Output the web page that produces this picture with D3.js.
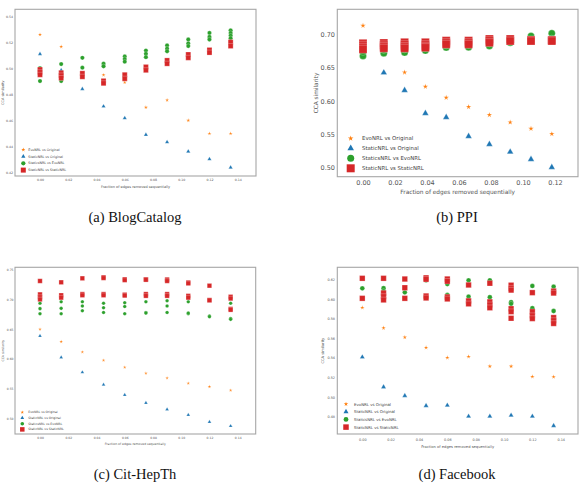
<!DOCTYPE html>
<html>
<head>
<meta charset="utf-8">
<script src="https://cdn.jsdelivr.net/npm/d3@7"></script>
<style>
  body { margin: 0; background: #fff; }
  svg text { font-family: "DejaVu Sans", sans-serif; }
</style>
</head>
<body>
<div id="chart"></div>
<script>
const width = 588, height = 484;

const seriesNames = ["EvoNRL vs Original", "StaticNRL vs Original", "StaticsNRL vs EvoNRL", "StaticNRL vs StaticNRL"];
const seriesColors = ["#ff7f0e", "#1f77b4", "#2ca02c", "#d62728"];
const seriesShapes = ["star", "triangle", "circle", "square"];

// (a) BlogCatalog
const blogX = [0, 0.015, 0.03, 0.045, 0.06, 0.075, 0.09, 0.105, 0.12, 0.135];
const blogXTicks = [0, 0.02, 0.04, 0.06, 0.08, 0.10, 0.12, 0.14];
const blogYTicks = [0.42, 0.44, 0.46, 0.48, 0.50, 0.52, 0.54];
const blogEvoOrig = [0.5257, 0.5165, 0.4955, 0.4948, 0.4892, 0.4700, 0.4756, 0.4600, 0.4500, 0.4500];
const blogStaticOrig = [0.5109, 0.4985, 0.4841, 0.4708, 0.4618, 0.4491, 0.4434, 0.4363, 0.4304, 0.4240];
const blogStaticEvo = [
    [0.5000, 0.4902], [0.5032, 0.4902], [0.5080, 0.5004], [0.5035, 0.5015],
    [0.5090, 0.5070, 0.5050], [0.5135, 0.5110, 0.5085], [0.5175, 0.5150, 0.5130],
    [0.5220, 0.5190, 0.5170], [0.5270, 0.5240, 0.5220], [0.5290, 0.5270, 0.5250, 0.5230]
];
const blogStaticStatic = [
    [0.4990, 0.4970, 0.4950], [0.4965, 0.4945, 0.4925], [0.4961, 0.4935], [0.4903, 0.4885],
    [0.4950, 0.4920], [0.5010, 0.4985], [0.5060, 0.5035], [0.5105, 0.5080],
    [0.5140, 0.5120], [0.5200, 0.5170]
];

// (b) PPI
const ppiX = [0, 0.013, 0.026, 0.039, 0.052, 0.066, 0.079, 0.092, 0.105, 0.118];
const ppiXTicks = [0, 0.02, 0.04, 0.06, 0.08, 0.10, 0.12];
const ppiYTicks = [0.50, 0.55, 0.60, 0.65, 0.70];
const ppiEvoOrig = [0.7136, 0.6840, 0.6433, 0.6216, 0.6050, 0.5910, 0.5789, 0.5679, 0.5582, 0.5502];
const ppiStaticOrig = [0.6830, 0.6427, 0.6161, 0.5814, 0.5754, 0.5467, 0.5347, 0.5231, 0.5120, 0.5000];
const ppiStaticEvo = [
    [0.668, 0.674], [0.672, 0.677], [0.673, 0.678], [0.676, 0.680], [0.6807, 0.684],
    [0.681, 0.685], [0.683, 0.687], [0.688, 0.690], [0.698, 0.692], [0.702, 0.694]
];
const ppiStaticStatic = [
    [0.687, 0.684, 0.681, 0.678], [0.6875, 0.6845, 0.682, 0.6795], [0.6885, 0.685, 0.682, 0.6795],
    [0.6885, 0.685, 0.6825, 0.6805], [0.691, 0.688, 0.6855], [0.691, 0.688, 0.6855],
    [0.6935, 0.691, 0.688], [0.6935, 0.6905], [0.692, 0.6905], [0.692, 0.6905]
];

// (c) Cit-HepTh
const citX = [0, 0.015, 0.03, 0.045, 0.06, 0.075, 0.09, 0.105, 0.12, 0.135];
const citXTicks = [0, 0.02, 0.04, 0.06, 0.08, 0.10, 0.12, 0.14];
const citYTicks = [0.50, 0.55, 0.60, 0.65, 0.70, 0.75];
const citEvoOrig = [0.6497, 0.6289, 0.6115, 0.5975, 0.5858, 0.5757, 0.5678, 0.5589, 0.5532, 0.5471];
const citStaticOrig = [0.6385, 0.6026, 0.5774, 0.5565, 0.5392, 0.5258, 0.5151, 0.5056, 0.4938, 0.4870];
const citStaticEvo = [
    [0.6935, 0.6845, 0.6760], [0.6960, 0.6850, 0.6760], [0.6960, 0.6890, 0.6810],
    [0.6935, 0.6860, 0.6780], [0.6945, 0.6880, 0.6760], [0.6960, 0.6780, 0.6770],
    [0.6978, 0.6890, 0.6780], [0.6960, 0.6760, 0.6770], [0.6720, 0.6710], [0.6935, 0.6680, 0.6665]
];
const citStaticStatic = [
    [0.7310, 0.7085, 0.7040, 0.7000], [0.7288, 0.7070, 0.7030], [0.7355, 0.7090, 0.7070],
    [0.7372, 0.7360, 0.7090, 0.7070], [0.7339, 0.7325, 0.7080, 0.7065], [0.7339, 0.7330, 0.7090, 0.7060],
    [0.7335, 0.7310, 0.7090, 0.7060], [0.7285, 0.7270, 0.7060, 0.7030], [0.7231, 0.6990, 0.6985],
    [0.7045, 0.7015, 0.6840, 0.6825]
];

// (d) Facebook
const fbX = [0, 0.015, 0.03, 0.045, 0.06, 0.075, 0.09, 0.105, 0.12, 0.135];
const fbXTicks = [0, 0.02, 0.04, 0.06, 0.08, 0.10, 0.12, 0.14];
const fbYTicks = [0.48, 0.50, 0.52, 0.54, 0.56, 0.58, 0.60, 0.62];
const fbEvoOrig = [0.5911, 0.5704, 0.5609, 0.5503, 0.5401, 0.5412, 0.5313, 0.5313, 0.5208, 0.5205];
const fbStaticOrig = [0.5408, 0.5103, 0.5014, 0.4912, 0.4916, 0.4804, 0.4804, 0.4814, 0.4804, 0.4708];
const fbStaticEvo = [
    [0.6108], [0.6110, 0.6080], [0.6067], [0.6190, 0.6010], [0.6152, 0.6040],
    [0.6190, 0.6023], [0.6190, 0.6017], [0.5966, 0.5950], [0.6132, 0.5905], [0.6125, 0.5877]
];
const fbStaticStatic = [
    [0.6210, 0.6006], [0.6210, 0.6060, 0.6025, 0.5990], [0.6203, 0.6114, 0.6006],
    [0.6215, 0.6200, 0.6030, 0.6010], [0.6203, 0.6180, 0.6020, 0.6000], [0.6142, 0.5980, 0.5950],
    [0.6160, 0.5970, 0.5940, 0.5910], [0.6140, 0.6110, 0.6090, 0.5900, 0.5870, 0.5803],
    [0.6064, 0.5870, 0.5830, 0.5800], [0.6080, 0.6060, 0.5810, 0.5780, 0.5750]
];

const svg = d3.select("#chart").append("svg")
    .attr("width", width)
    .attr("height", height);

// symbol area from a marker width
function symbolFor(shape, w) {
    if (shape === "square") return d3.symbol(d3.symbolSquare, w * w);
    if (shape === "circle") return d3.symbol(d3.symbolCircle, Math.PI * w * w / 4);
    if (shape === "triangle") return d3.symbol(d3.symbolTriangle, Math.sqrt(3) / 4 * w * w);
    const r = w / 1.902;
    return d3.symbol(d3.symbolStar, r * r / 0.8908);
}

function flatten(xs, vals) {
    return vals.flatMap((v, i) => (Array.isArray(v) ? v : [v]).map(val => ({ x: xs[i], y: val })));
}

function drawPanel(p) {
    const x = d3.scaleLinear().domain(p.xDomain).range(p.xRange);
    const y = d3.scaleLinear().domain(p.yDomain).range(p.yRange);
    const [fx0, fx1, fy0, fy1] = p.frame;
    const g = svg.append("g");

    g.append("rect")
        .attr("x", fx0).attr("y", fy0)
        .attr("width", fx1 - fx0).attr("height", fy1 - fy0)
        .attr("fill", "#fff")
        .attr("stroke", "#a6a6a6")
        .attr("stroke-width", 1.1);

    const xAxis = g.append("g")
        .attr("transform", `translate(0,${fy1})`)
        .call(d3.axisBottom(x).tickValues(p.xTicks).tickFormat(d3.format(".2f")).tickSize(0).tickPadding(p.xPad));
    const yAxis = g.append("g")
        .attr("transform", `translate(${fx0},0)`)
        .call(d3.axisLeft(y).tickValues(p.yTicks).tickFormat(d3.format(".2f")).tickSize(0).tickPadding(p.yPad));
    [xAxis, yAxis].forEach(a => {
        a.select(".domain").remove();
        a.selectAll("text").attr("fill", "#555").style("font-size", p.tickFont + "px").style("font-family", "DejaVu Sans, sans-serif");
    });

    g.append("text")
        .attr("x", (fx0 + fx1) / 2).attr("y", p.xLabelY)
        .attr("text-anchor", "middle").attr("dominant-baseline", "central")
        .attr("fill", "#555").style("font-size", p.labelFont + "px")
        .text("Fraction of edges removed sequentially");
    g.append("text")
        .attr("transform", `translate(${p.yLabelX},${(fy0 + fy1) / 2}) rotate(-90)`)
        .attr("text-anchor", "middle").attr("dominant-baseline", "central")
        .attr("fill", "#555").style("font-size", p.labelFont + "px")
        .text("CCA similarity");

    p.series.forEach((vals, si) => {
        g.append("g").selectAll("path")
            .data(flatten(p.xs, vals))
            .join("path")
            .attr("transform", d => `translate(${x(d.x)},${y(d.y)})`)
            .attr("d", symbolFor(seriesShapes[si], p.sizes[si]))
            .attr("fill", seriesColors[si])
            .attr("stroke", "#fff")
            .attr("stroke-width", 0.25);
    });

    const legend = g.selectAll(".legend")
        .data(seriesNames)
        .join("g")
        .attr("class", "legend")
        .attr("transform", (d, i) => `translate(${p.legend.x},${p.legend.y + i * p.legend.dy})`);
    legend.append("path")
        .attr("d", (d, i) => symbolFor(seriesShapes[i], p.sizes[i])())
        .attr("fill", (d, i) => seriesColors[i]);
    legend.append("text")
        .attr("x", p.legend.gap)
        .attr("dominant-baseline", "central")
        .attr("fill", "#444")
        .style("font-size", p.legend.font + "px")
        .text(d => d);

    svg.append("text")
        .attr("x", p.caption.x).attr("y", p.caption.y)
        .attr("text-anchor", "middle")
        .style("font-family", "'Liberation Serif', 'Times New Roman', serif")
        .style("font-size", "14.5px")
        .attr("fill", "#111")
        .text(p.caption.text);
}

drawPanel({
    xs: blogX, series: [blogEvoOrig, blogStaticOrig, blogStaticEvo, blogStaticStatic],
    xDomain: [0, 0.14], xRange: [40, 237.7], yDomain: [0.42, 0.54], yRange: [172.7, 16],
    frame: [15, 256, 9.3, 176], xTicks: blogXTicks, yTicks: blogYTicks,
    xPad: 3.2, yPad: 2, tickFont: 3.2, labelFont: 3.5, xLabelY: 187, yLabelX: 3,
    sizes: [4, 4.2, 4.3, 5],
    legend: { x: 23.3, y: 149.7, dy: 6.8, gap: 5, font: 3.3 },
    caption: { x: 135, y: 222, text: "(a) BlogCatalog" }
});

drawPanel({
    xs: ppiX, series: [ppiEvoOrig, ppiStaticOrig, ppiStaticEvo, ppiStaticStatic],
    xDomain: [0, 0.12], xRange: [363, 555], yDomain: [0.50, 0.70], yRange: [167.3, 34.7],
    frame: [337.3, 578, 9.3, 176.7], xTicks: ppiXTicks, yTicks: ppiYTicks,
    xPad: 3.7, yPad: 2.3, tickFont: 6.5, labelFont: 5.8, xLabelY: 191.7, yLabelX: 316.3,
    sizes: [5.5, 6.5, 7, 8],
    legend: { x: 350.7, y: 138.3, dy: 10, gap: 11.3, font: 5.4 },
    caption: { x: 457, y: 222, text: "(b) PPI" }
});

drawPanel({
    xs: citX, series: [citEvoOrig, citStaticOrig, citStaticEvo, citStaticStatic],
    xDomain: [0, 0.14], xRange: [40, 237.7], yDomain: [0.50, 0.75], yRange: [418.3, 269.7],
    frame: [15, 255.7, 267.3, 434], xTicks: citXTicks, yTicks: citYTicks,
    xPad: 2.6, yPad: 1.5, tickFont: 3, labelFont: 3.1, xLabelY: 444.3, yLabelX: 3.3,
    sizes: [3.5, 3.7, 3.6, 4.5],
    legend: { x: 22.3, y: 412.3, dy: 5.7, gap: 6, font: 3.1 },
    caption: { x: 135, y: 479, text: "(c) Cit-HepTh" }
});

drawPanel({
    xs: fbX, series: [fbEvoOrig, fbStaticOrig, fbStaticEvo, fbStaticStatic],
    xDomain: [0, 0.14], xRange: [362.3, 560.7], yDomain: [0.48, 0.62], yRange: [416.7, 279.3],
    frame: [337.3, 578, 267.3, 434], xTicks: fbXTicks, yTicks: fbYTicks,
    xPad: 4.8, yPad: 2.3, tickFont: 3.4, labelFont: 3.7, xLabelY: 447, yLabelX: 323.3,
    sizes: [4.5, 5, 4.8, 5.5],
    legend: { x: 346, y: 404, dy: 7.7, gap: 8, font: 3.9 },
    caption: { x: 457, y: 479, text: "(d) Facebook" }
});
</script>
</body>
</html>
